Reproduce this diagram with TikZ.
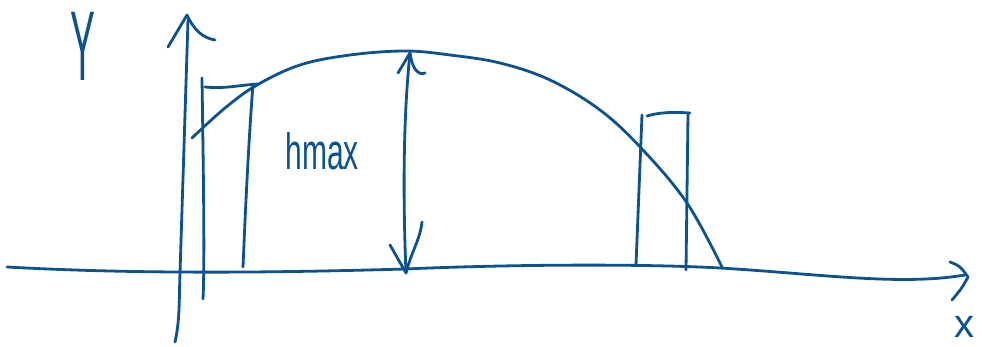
\documentclass[tikz,border=0pt]{standalone}
\usepackage{fontspec}
\setsansfont{Liberation Sans}
\usepackage{tikz}
\usetikzlibrary{positioning}
\definecolor{ink}{RGB}{12,82,142}

\begin{document}
\begin{tikzpicture}[x=1pt, y=-1pt,
  pen/.style={ink, line width=2.8pt, line cap=round, line join=round}]
  \useasboundingbox (0,0) rectangle (982,347);
  % x axis
  \draw[pen] (7,267) .. controls (150,275) and (300,272) .. (405,269)
    .. controls (520,264) and (650,264) .. (720,268)
    .. controls (820,274) and (900,286) .. (965,275);
  \draw[pen] (950,262) .. controls (960,266) .. (968,277) .. controls (962,288) .. (952,300);
  % y axis
  \draw[pen] (175,342) .. controls (180,320) and (179,300) .. (180,273) -- (188,20);
  \draw[pen] (168,47) -- (187,15) .. controls (195,32) and (204,38) .. (215,40);
  % trajectory
  \draw[pen] plot[smooth, tension=0.6] coordinates {(192,138) (225,108) (257,85)
    (300,65) (350,55) (405,51) (450,55) (500,63) (550,80) (600,110) (642,149)
    (687,203) (722,267)};
  % left wall
  \draw[pen] (202,78) .. controls (203,150) and (205,260) .. (203,299);
  \draw[pen] (205,87) .. controls (225,89) and (240,85) .. (258,84);
  \draw[pen] (253,84) .. controls (248,150) and (245,220) .. (243,267);
  % right wall
  \draw[pen] (642,115) -- (636,265);
  \draw[pen] (647,116) .. controls (660,112) and (675,112) .. (690,113);
  \draw[pen] (688,114) -- (686,270);
  % height arrow
  \draw[pen] (410,53) .. controls (403,120) and (403,200) .. (406,273);
  \draw[pen] (398,73) -- (410,53) .. controls (412,68) and (418,76) .. (425,73);
  \draw[pen] (390,245) -- (406,273) .. controls (412,250) and (420,240) .. (422,222);
  % labels
  \node[ink, font=\sffamily\fontsize{62}{62}\selectfont, xscale=0.6, yscale=1.6, inner sep=0pt] (ylab) at (83,46) {Y};
  \node[ink, font=\sffamily\fontsize{30}{30}\selectfont, yscale=1.7, anchor=base west] (hlab) at (282,170) {hmax};
  \node[ink, font=\sffamily\fontsize{40}{40}\selectfont, anchor=base, inner sep=0pt] (xlab) at (964,337) {x};
\end{tikzpicture}
\end{document}
